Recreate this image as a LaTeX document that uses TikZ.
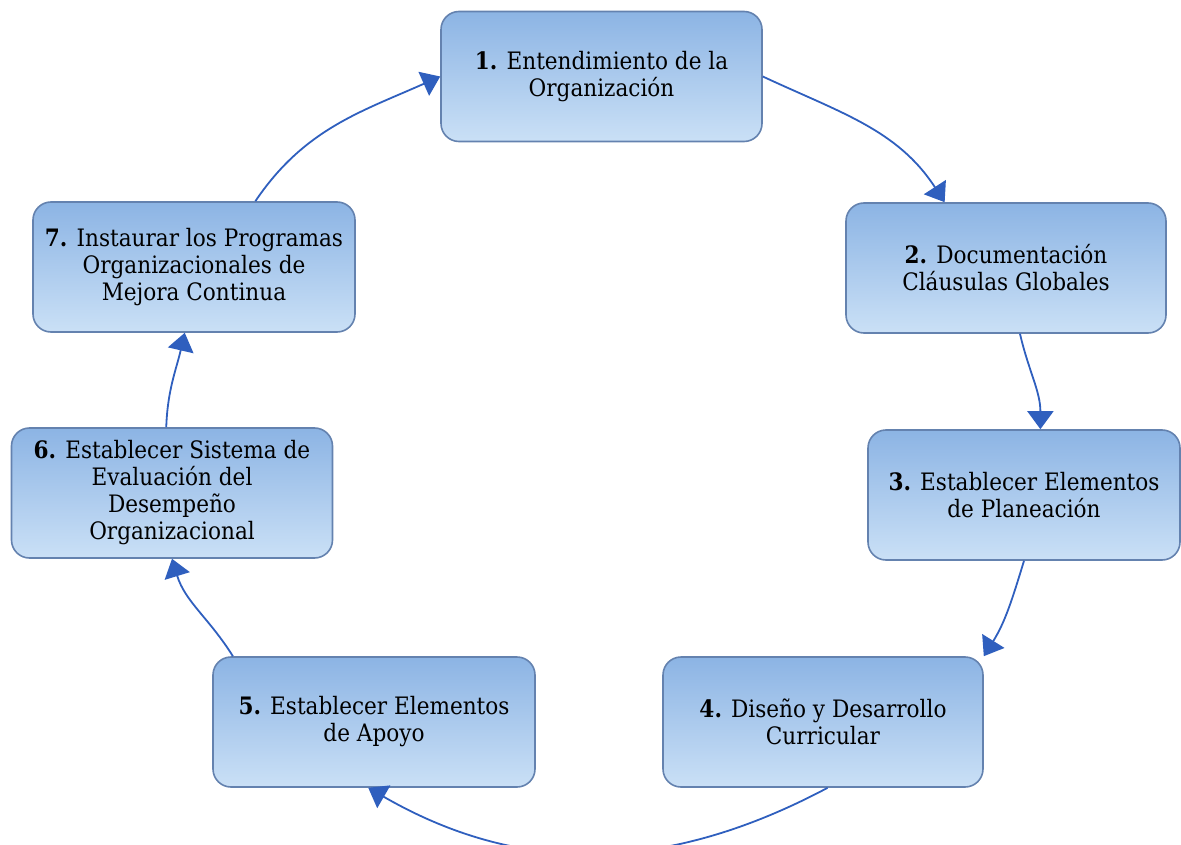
\documentclass[tikz,border=0pt]{standalone}
\usepackage{fontspec}
\setmainfont{DejaVu Serif Condensed}
\usetikzlibrary{arrows.meta}
\definecolor{arrowblue}{RGB}{47,95,190}
\definecolor{boxtop}{RGB}{140,180,228}
\definecolor{boxmid}{RGB}{124,168,224}
\definecolor{boxbot}{RGB}{202,224,246}
\definecolor{boxedge}{RGB}{100,130,175}
\tikzset{
    x=1pt,y=-1pt,
    flow/.style={-{Triangle[length=18pt,width=26pt]}, draw=arrowblue, line width=1.8pt},
    b/.style={rounded corners=18pt, draw=boxedge, line width=1.6pt, top color=boxtop, middle color=boxmid, bottom color=boxbot, align=center, minimum height=130pt, inner sep=2pt, font=\fontsize{24}{27}\selectfont}
}

\begin{document}
\begin{tikzpicture}
	\useasboundingbox (0,0) rectangle (1181,845);

	\node (1) [b, minimum width=321pt] at (601.5,76.5) {\textbf{1.} Entendimiento de la\\Organización};
	\node (2) [b, minimum width=320pt] at (1006,268) {\textbf{2.} Documentación\\Cláusulas Globales};
	\node (3) [b, minimum width=312pt] at (1024,495) {\textbf{3.} Establecer Elementos\\de Planeación};
	\node (4) [b, minimum width=320pt] at (823,722) {\textbf{4.} Diseño y Desarrollo\\Curricular};
	\node (5) [b, minimum width=322pt] at (374,722) {\textbf{5.} Establecer Elementos\\de Apoyo};
	\node (6) [b, minimum width=321pt] at (172,493) {\textbf{6.} Establecer Sistema de\\Evaluación del\\Desempeño\\Organizacional};
	\node (7) [b, minimum width=322pt] at (194,267) {\textbf{7.} Instaurar los Programas\\Organizacionales de\\Mejora Continua};

	\draw[flow] (1.east) to[out=-25, in=123] (2.133);
	\draw[flow] (2.-78) to[out=-77, in=90] (3.76);
	\draw[flow] (3.south) to[out=-107, in=58] (4.north east);
	\draw[flow] (4.-86) to[out=-152, in=-30] (5.-95);
	\draw[flow] (5.155) to[out=122, in=-73] (6.south);
	\draw[flow] (6.95) to[out=88, in=-103] (7.-98);
	\draw[flow] (7.47) to[out=56, in=-156] (1.west);
\end{tikzpicture}
\end{document}
